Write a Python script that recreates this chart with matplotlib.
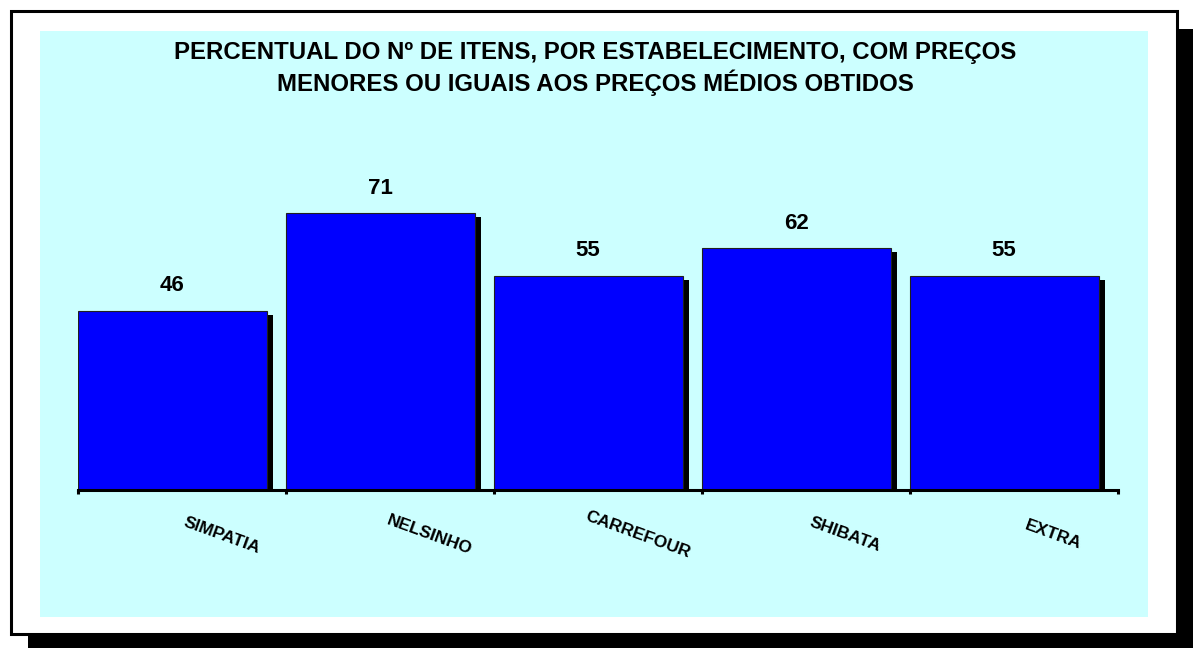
import matplotlib
matplotlib.use("Agg")
import matplotlib.pyplot as plt
import matplotlib.patches as mpatches
import matplotlib.patheffects as pe
from matplotlib.transforms import ScaledTranslation

categories = ["SIMPATIA", "NELSINHO", "CARREFOUR", "SHIBATA", "EXTRA"]
values = [46, 71, 55, 62, 55]
title_lines = ["PERCENTUAL DO Nº DE ITENS, POR ESTABELECIMENTO, COM PREÇOS",
               "MENORES OU IGUAIS AOS PREÇOS MÉDIOS OBTIDOS"]

W, H = 1193, 648
fig = plt.figure(figsize=(W / 100, H / 100), dpi=100)
fig.patch.set_facecolor("white")


def rect_px(x0, y0, x1, y1, **kw):
    # pixel coords from top-left
    r = mpatches.Rectangle((x0 / W, 1 - y1 / H), (x1 - x0) / W, (y1 - y0) / H,
                           transform=fig.transFigure, **kw)
    fig.patches.append(r)
    return r

# frame shadow
rect_px(28, 29, 1193, 648, facecolor="black", edgecolor="none", zorder=0)
# frame
rect_px(11, 11, 1177, 634, facecolor="white", edgecolor="black", linewidth=2.2, zorder=1)
# cyan chart area
rect_px(40, 31, 1148, 617, facecolor="#CCFFFF", edgecolor="none", zorder=2)

# title
fig.text(595 / W, 1 - 53 / H, title_lines[0], ha="center", va="center",
         fontsize=17.3, fontweight="bold", family="Liberation Sans", zorder=5)
fig.text(595 / W, 1 - 83 / H, title_lines[1], ha="center", va="center",
         fontsize=17.3, fontweight="bold", family="Liberation Sans", zorder=5)

# axes in pixel coords
ax_l, ax_r, ax_b = 77.5, 1117.5, 490
ymax = 80
ppu = 3.9
ax_t = ax_b - ymax * ppu
ax = fig.add_axes([ax_l / W, 1 - ax_b / H, (ax_r - ax_l) / W, (ax_b - ax_t) / H])
ax.set_zorder(3)
ax.patch.set_visible(False)

xs = list(range(len(categories)))
bars = ax.bar(xs, values, width=0.91, align="edge", color="#0000FF",
              edgecolor="#202020", linewidth=0.8, zorder=3)
for b in bars:
    b.set_path_effects([pe.SimplePatchShadow(offset=(4.3, -3), shadow_rgbFace="black", alpha=1.0),
                        pe.Normal()])

for x, v in zip(xs, values):
    ax.annotate(str(v), (x + 0.455, v), xytext=(0, 18), textcoords="offset points",
                ha="center", va="center", fontsize=16, fontweight="bold",
                family="Liberation Sans")

ax.set_xlim(0, len(categories))
ax.set_ylim(0, ymax)
for s in ["top", "right", "left"]:
    ax.spines[s].set_visible(False)
ax.spines["bottom"].set_linewidth(2.2)
ax.spines["bottom"].set_zorder(4)
ax.set_yticks([])
ax.set_xticks(range(len(categories) + 1))
ax.set_xticklabels([])
ax.tick_params(axis="x", direction="out", length=3, width=2.2, color="black")

off = ScaledTranslation(40 / 100, -45 / 100, fig.dpi_scale_trans)
for x, c in zip(xs, categories):
    ax.text(x + 0.5, 0, c, transform=ax.transData + off, rotation=-20,
            rotation_mode="anchor", ha="center", va="center", fontsize=12.5,
            fontweight="semibold", family="Liberation Sans", clip_on=False)

fig.savefig("out.png", dpi=100, facecolor="white")
